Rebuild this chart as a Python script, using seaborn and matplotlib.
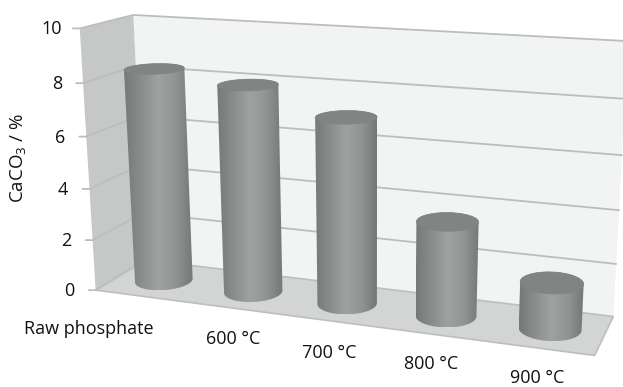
import numpy as np
import pandas as pd
import matplotlib
matplotlib.use("Agg")
import matplotlib.pyplot as plt
import seaborn as sns
from matplotlib.patches import Polygon

categories = ["Raw phosphate", "600 °C", "700 °C", "800 °C", "900 °C"]
values = [8.33, 7.97, 7.05, 3.55, 1.72]
y_ticks = [0, 2, 4, 6, 8, 10]
y_label = "CaCO$_3$ / %"

sns.set_theme(style="white")
plt.rcParams["font.family"] = ["Open Sans", "DejaVu Sans"]
plt.rcParams["mathtext.default"] = "regular"
plt.rcParams["mathtext.fontset"] = "custom"
plt.rcParams["mathtext.rm"] = "Open Sans"

W, H = 623, 387
fig = plt.figure(figsize=(W / 100, H / 100), dpi=100)
ax = fig.add_axes([0, 0, 1, 1])

# Camera fitted to the drawn box: (category, depth, value) -> pixels
n_cat = len(categories)
box3d = np.array([[0, 0, 0], [0, 0, 10], [0, 1, 0], [0, 1, 10],
                  [n_cat, 1, 0], [n_cat, 1, 10], [n_cat, 0, 0]], float)
box2d = np.array([[95, 290], [80, 29], [146, 260], [133, 14.5],
                  [613, 317], [628, 41], [595, 355]], float)
rows = []
for (a, b, c), (x, y) in zip(box3d, box2d):
    rows.append([a, b, c, 1, 0, 0, 0, 0, -x * a, -x * b, -x * c, -x])
    rows.append([0, 0, 0, 0, a, b, c, 1, -y * a, -y * b, -y * c, -y])
cam = np.linalg.svd(np.array(rows))[2][-1].reshape(3, 4)


def project(u, d, v):
    p = np.stack([u, d, v, np.ones_like(u)], axis=0) if isinstance(u, np.ndarray) \
        else np.array([u, d, v, 1.0])
    q = cam @ p
    return q[0] / q[2], q[1] / q[2]


def quad(*corners):
    return [project(float(a), float(b), float(c)) for a, b, c in corners]


def hull(points):
    pts = sorted(map(tuple, points))
    def half(seq):
        out = []
        for p in seq:
            while len(out) > 1 and ((out[-1][0] - out[-2][0]) * (p[1] - out[-2][1])
                                    - (out[-1][1] - out[-2][1]) * (p[0] - out[-2][0])) <= 0:
                out.pop()
            out.append(p)
        return out[:-1]
    return half(pts) + half(pts[::-1])


N = n_cat
ax.add_patch(Polygon(quad((0, 1, 0), (0, 1, 10), (N, 1, 10), (N, 1, 0)), fc="#f2f3f3", ec="none", zorder=1))
ax.add_patch(Polygon(quad((0, 0, 0), (0, 0, 10), (0, 1, 10), (0, 1, 0)), fc="#c6c8c8", ec="none", zorder=1))
ax.add_patch(Polygon(quad((0, 0, 0), (0, 1, 0), (N, 1, 0), (N, 0, 0)), fc="#d3d5d4", ec="#bdbfbe", lw=1.2, zorder=2))

# Gridlines through seaborn
grid = []
for t in y_ticks:
    pts = quad((0, 0, t), (0, 1, t), (N, 1, t))
    if t == 0:
        pts = pts[:2]
    tx = project(0.0, 0.0, float(t))
    pts = [(tx[0] - 7, tx[1])] + pts
    for k, (x, y) in enumerate(pts):
        grid.append({"x": x, "y": y, "tick": t, "order": k})
grid = pd.DataFrame(grid)
sns.lineplot(data=grid, x="x", y="y", units="tick", estimator=None, sort=False,
             color="#bcbebe", lw=1.3, ax=ax, legend=False, zorder=3)

# Cylinders
R_U, R_D, D0 = 0.287, 0.30, 0.49
shade = matplotlib.colors.LinearSegmentedColormap.from_list(
    "cyl", ["#777878", "#8b8c8c", "#a0a2a2", "#929393", "#757676"])
ramp = np.linspace(0, 1, 256)[None, :]
thetas = np.linspace(0, 2 * np.pi, 181)
for i, val in enumerate(values):
    cu = i + 0.5 + np.cos(thetas) * R_U
    cd = D0 + np.sin(thetas) * R_D
    xb, yb = project(cu, cd, np.zeros_like(cu))
    xt, yt = project(cu, cd, np.full_like(cu, val))
    outline = hull(np.vstack([np.column_stack([xb, yb]), np.column_stack([xt, yt])]))
    xs, ys = zip(*outline)
    im = ax.imshow(ramp, cmap=shade, aspect="auto", extent=(min(xs), max(xs), max(ys), min(ys)),
                   zorder=5 + i, interpolation="bilinear")
    clip = Polygon(outline, transform=ax.transData, fc="none", ec="none")
    ax.add_patch(clip)
    im.set_clip_path(clip)
    ax.add_patch(Polygon(np.column_stack([xt, yt]), fc="#828383", ec="#828383", lw=0.5, zorder=5 + i))

ax.set_xlim(0, W)
ax.set_ylim(H, 0)
ax.axis("off")

# Text
for t in y_ticks:
    x, y = project(0.0, 0.0, float(t))
    ax.text(x - 21 if t < 10 else 62, y + 1, str(t), ha="right", va="center", fontsize=13, color="#111111")
ax.text(18, 158, y_label, rotation=90, ha="center", va="center", fontsize=13.5, color="#111111")
label_xy = [(89, 329), (233, 339), (329, 353), (431, 364), (537, 378)]
for name, (x, y) in zip(categories, label_xy):
    ax.text(x, y, name, ha="center", va="center", fontsize=13, color="#111111")

fig.savefig("out.png", dpi=100)
